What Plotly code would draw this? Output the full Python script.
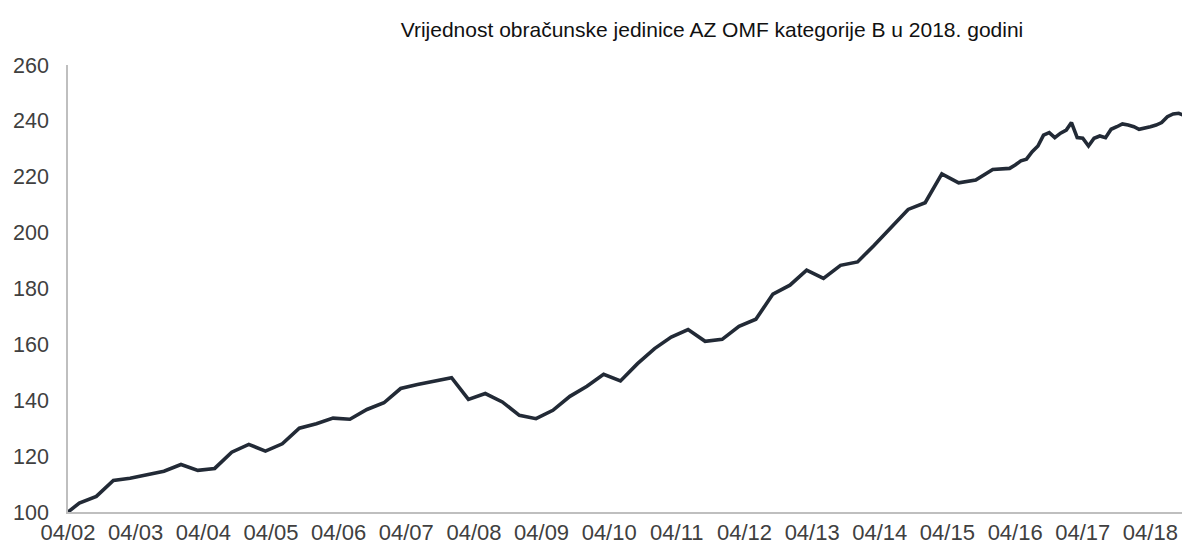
import plotly.graph_objects as go

# Quarterly observations 2002-04 .. 2016-03, then monthly to 2018-11
quarter_dates = (
    ["2002-04-30", "2002-06-30", "2002-09-30", "2002-12-31"]
    + [f"{y}-{md}" for y in range(2003, 2016) for md in ("03-31", "06-30", "09-30", "12-31")]
    + ["2016-03-31"]
)
quarter_values = [
    100.0, 103.2, 105.6, 111.3,
    112.1, 113.4, 114.6, 117.0,
    114.9, 115.6, 121.4, 124.2,
    121.8, 124.4, 130.0, 131.6,
    133.6, 133.2, 136.7, 139.1,
    144.2, 145.6, 146.9, 148.1,
    140.3, 142.4, 139.4, 134.6,
    133.4, 136.4, 141.4, 145.0,
    149.3, 146.9, 153.1, 158.5,
    162.6, 165.3, 161.1, 161.8,
    166.5, 169.0, 178.0, 181.2,
    186.6, 183.6, 188.3, 189.5,
    195.5, 202.1, 208.3, 210.7,
    221.0, 217.8, 218.8, 222.6,
    223.0,
]
month_dates = [
    "2016-04-30", "2016-05-31", "2016-06-30", "2016-07-31", "2016-08-31", "2016-09-30",
    "2016-10-31", "2016-11-30", "2016-12-31",
    "2017-01-31", "2017-02-28", "2017-03-31", "2017-04-30", "2017-05-31", "2017-06-30",
    "2017-07-31", "2017-08-31", "2017-09-30", "2017-10-31", "2017-11-30", "2017-12-31",
    "2018-01-31", "2018-02-28", "2018-03-31", "2018-04-30", "2018-05-31", "2018-06-30",
    "2018-07-31", "2018-08-31", "2018-09-30", "2018-10-31", "2018-11-30",
]
month_values = [
    224.2, 225.7, 226.3, 229.0, 231.0, 234.9,
    235.8, 234.0, 235.6,
    236.7, 239.4, 234.0, 233.8, 231.0, 233.8,
    234.6, 234.0, 237.0, 237.9, 238.9, 238.5,
    237.9, 237.0, 237.3, 237.9, 238.5, 239.4,
    241.5, 242.5, 242.7, 241.9, 241.6,
]

dates = quarter_dates + month_dates
values = quarter_values + month_values

tick_dates = [f"{y}-04-30" for y in range(2002, 2019)]
tick_labels = [f"04/{y % 100:02d}" for y in range(2002, 2019)]

title_text = "Vrijednost obračunske jedinice AZ OMF kategorije B u 2018. godini"

# The page body has an 8px margin, so the figure is sized/offset to compensate.
W, H = 1182, 539

fig = go.Figure()
fig.add_trace(go.Scatter(
    x=dates, y=values, mode="lines",
    line=dict(color="#222a36", width=3.6),
    hoverinfo="x+y", showlegend=False,
))

fig.update_layout(
    width=W, height=H,
    margin=dict(l=60, r=0, t=57, b=35),
    paper_bgcolor="white", plot_bgcolor="white",
    font=dict(family="Liberation Sans, Arial, sans-serif", color="#404040", size=21),
    title=dict(
        text=title_text, x=704 / W, xanchor="center", xref="container",
        y=1 - 22 / H, yanchor="middle", yref="container",
        font=dict(family="Liberation Sans, Arial, sans-serif", size=21, color="#111111"),
    ),
    xaxis=dict(
        type="date",
        range=["2002-04-30", "2018-11-30"],
        tickvals=tick_dates, ticktext=tick_labels,
        showgrid=False, zeroline=False,
        showline=True, linecolor="#bfbfbf", linewidth=1.5,
        ticks="", ticklabelstandoff=0,
        tickfont=dict(size=22, color="#404040"),
    ),
    yaxis=dict(
        range=[100, 260], tickvals=[100, 120, 140, 160, 180, 200, 220, 240, 260],
        showgrid=False, zeroline=False,
        showline=True, linecolor="#bfbfbf", linewidth=1.5,
        ticks="", ticklabelstandoff=13,
        tickfont=dict(size=21.5, color="#404040"),
    ),
)

fig.write_html("out.html")
